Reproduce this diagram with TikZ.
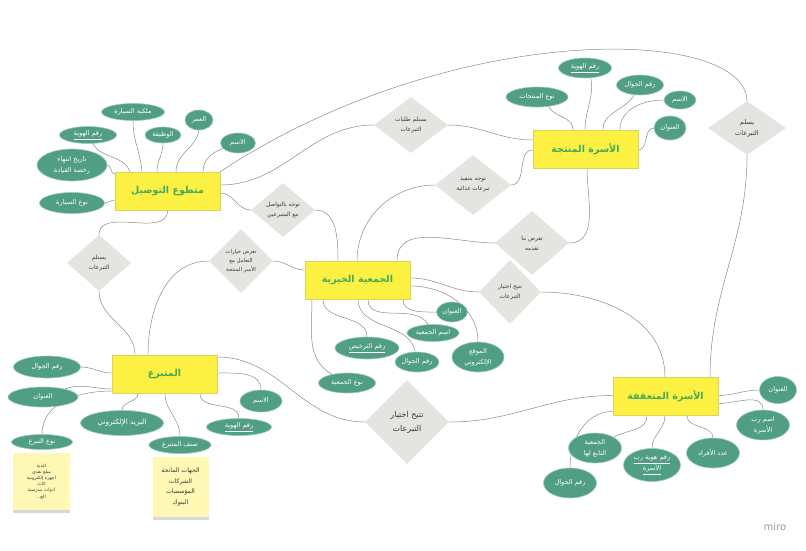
\documentclass[tikz,border=0pt]{standalone}
\usepackage{fontspec}
\setmainfont{DejaVu Sans}
\newfontfamily\arfont[Script=Arabic]{DejaVu Sans}
\TeXXeTstate=1
\usetikzlibrary{shapes.geometric,shadows,backgrounds}
\newcommand{\AR}[1]{\beginR#1\endR}
\definecolor{entfill}{HTML}{FCF142}
\definecolor{entline}{HTML}{DCD35C}
\definecolor{enttext}{HTML}{45A85C}
\definecolor{attfill}{HTML}{519E86}
\definecolor{attline}{HTML}{9CCBBA}
\definecolor{relfill}{HTML}{E4E4E1}
\definecolor{reltext}{HTML}{3A3A3A}
\definecolor{linkcol}{HTML}{8A8A8A}
\definecolor{notefill}{HTML}{FFF8B4}
\begin{document}
\begin{tikzpicture}[x=1pt,y=1pt,
 ent/.style={rectangle, fill=entfill, draw=entline, line width=0.6pt, minimum width=105pt, minimum height=38pt, inner sep=0pt, text=enttext, font=\arfont\bfseries\fontsize{9.5}{12}\selectfont},
 attr/.style={ellipse, fill=attfill, draw=attline, line width=0.6pt, inner sep=0pt, text=white, align=center, font=\arfont\fontsize{6.6}{11}\selectfont},
 rel/.style={diamond, fill=relfill, draw=none, inner sep=0pt, text=reltext, align=center, font=\arfont\fontsize{5.8}{10}\selectfont},
 link/.style={draw=linkcol, line width=0.5pt},
 note/.style={rectangle, fill=notefill, inner sep=0pt, text=reltext, align=center, drop shadow={shadow xshift=0pt, shadow yshift=-2.5pt, opacity=0.3, fill=black!50}},
]
\useasboundingbox (0,0) rectangle (806,-550);

% entities
\node[ent] (vol) at (167.5,-191) {\AR{متطوع التوصيل}};
\node[ent] (prod) at (585.5,-149) {\AR{الأسرة المنتجة}};
\node[ent] (char) at (357.5,-280) {\AR{الجمعية الخيرية}};
\node[ent] (don) at (164.5,-374) {\AR{المتبرع}};
\node[ent] (poor) at (665.5,-396.5) {\AR{الأسرة المتعففة}};

% attributes of vol
\node[attr, minimum width=35pt, minimum height=20pt] (av1) at (238,-143) {\AR{الاسم}};
\node[attr, minimum width=28pt, minimum height=20pt] (av2) at (199,-120) {\AR{العمر}};
\node[attr, minimum width=36pt, minimum height=16pt] (av3) at (163,-135) {\AR{الوظيفة}};
\node[attr, minimum width=63pt, minimum height=17pt] (av4) at (133,-112) {\AR{ملكية السيارة}};
\node[attr, minimum width=57pt, minimum height=17pt] (av5) at (88,-135) {\underline{\AR{رقم الهوية}}};
\node[attr, minimum width=70pt, minimum height=32pt] (av6) at (72,-165) {\AR{تاريخ انتهاء}\\\AR{رخصة القيادة}};
\node[attr, minimum width=65pt, minimum height=21pt] (av7) at (72,-203) {\AR{نوع السيارة}};

% attributes of prod
\node[attr, minimum width=53pt, minimum height=20pt] (ap1) at (585,-68) {\underline{\AR{رقم الهوية}}};
\node[attr, minimum width=47pt, minimum height=20pt] (ap2) at (640,-85) {\AR{رقم الجوال}};
\node[attr, minimum width=62pt, minimum height=20pt] (ap3) at (537,-97) {\AR{نوع المنتجات}};
\node[attr, minimum width=32pt, minimum height=18pt] (ap4) at (680,-100) {\AR{الاسم}};
\node[attr, minimum width=32pt, minimum height=24pt] (ap5) at (670,-128) {\AR{العنوان}};

% attributes of char
\node[attr, minimum width=31pt, minimum height=20pt] (ac1) at (452,-312) {\AR{العنوان}};
\node[attr, minimum width=52pt, minimum height=17pt] (ac2) at (433,-333) {\AR{اسم الجمعية}};
\node[attr, minimum width=64pt, minimum height=22pt] (ac3) at (367,-348) {\underline{\AR{رقم الترخيص}}};
\node[attr, minimum width=43pt, minimum height=20pt] (ac4) at (417,-362) {\AR{رقم الجوال}};
\node[attr, minimum width=52pt, minimum height=30pt] (ac5) at (478,-357) {\AR{الموقع}\\\AR{الإلكتروني}};
\node[attr, minimum width=57pt, minimum height=20pt] (ac6) at (347,-383) {\AR{نوع الجمعية}};

% attributes of don
\node[attr, minimum width=67pt, minimum height=22pt] (ad1) at (47,-367) {\AR{رقم الجوال}};
\node[attr, minimum width=70pt, minimum height=20pt] (ad2) at (43,-397) {\AR{العنوان}};
\node[attr, minimum width=83pt, minimum height=25pt, font=\arfont\fontsize{7.3}{9}\selectfont] (ad3) at (122,-423) {\AR{البريد الإلكتروني}};
\node[attr, minimum width=61pt, minimum height=15pt] (ad4) at (42,-442) {\AR{نوع التبرع}};
\node[attr, minimum width=62pt, minimum height=17pt] (ad5) at (180,-445) {\AR{صنف المتبرع}};
\node[attr, minimum width=42pt, minimum height=22pt] (ad6) at (261,-401) {\AR{الاسم}};
\node[attr, minimum width=65pt, minimum height=17pt] (ad7) at (239,-427) {\underline{\AR{رقم الهوية}}};

% attributes of poor
\node[attr, minimum width=37pt, minimum height=27pt] (af1) at (778,-390) {\AR{العنوان}};
\node[attr, minimum width=53pt, minimum height=30pt] (af2) at (763,-425) {\AR{اسم رب}\\\AR{الأسرة}};
\node[attr, minimum width=53pt, minimum height=30pt] (af3) at (713,-453) {\AR{عدد الأفراد}};
\node[attr, minimum width=57pt, minimum height=33pt] (af4) at (652,-465) {\underline{\AR{رقم هوية رب}}\\\underline{\AR{الأسرة}}};
\node[attr, minimum width=53pt, minimum height=30pt] (af5) at (595,-448) {\AR{الجمعية}\\\AR{التابع لها}};
\node[attr, minimum width=53pt, minimum height=30pt] (af6) at (570,-483) {\AR{رقم الجوال}};

% relationships
\node[rel, minimum width=74pt, minimum height=56pt] (d1) at (411,-125) {\AR{يستلم طلبات}\\\AR{التبرعات}};
\node[rel, minimum width=64pt, minimum height=54pt] (d2) at (283,-210) {\AR{توجه بالتواصل}\\\AR{مع المتبرعين}};
\node[rel, minimum width=76pt, minimum height=60pt] (d3) at (473,-185) {\AR{توجه بتنفيذ}\\\AR{تبرعات غذائية}};
\node[rel, minimum width=74pt, minimum height=64pt] (d4) at (532,-243) {\AR{تعرض ما}\\\AR{تقدمه}};
\node[rel, minimum width=62pt, minimum height=64pt] (d5) at (510,-292) {\AR{تتيح اختيار}\\\AR{التبرعات}};
\node[rel, minimum width=64pt, minimum height=64pt, font=\arfont\fontsize{5.4}{8.8}\selectfont] (d6) at (241,-261) {\AR{تعرض خيارات}\\\AR{التعامل مع}\\\AR{الأسر المنتجة}};
\node[rel, minimum width=64pt, minimum height=56pt] (d7) at (99,-263) {\AR{يستلم}\\\AR{التبرعات}};
\node[rel, minimum width=84pt, minimum height=84pt, font=\arfont\fontsize{8}{14}\selectfont] (d8) at (407,-422) {\AR{تتيح اختيار}\\\AR{التبرعات}};
\node[rel, minimum width=78pt, minimum height=54pt, font=\arfont\fontsize{6.6}{11}\selectfont] (d9) at (747,-128) {\AR{يسلم}\\\AR{التبرعات}};

% sticky notes
\node[note, minimum width=57pt, minimum height=57pt, font=\arfont\fontsize{4.6}{6.2}\selectfont] (s1) at (41.5,-481.5) {\AR{اغذية}\\\AR{مبلغ نقدي}\\\AR{اجهزة إلكترونية}\\\AR{اثاث}\\\AR{ادوات مدرسية}\\\AR{الخ..}};
\node[note, minimum width=56pt, minimum height=60pt, font=\arfont\fontsize{6.2}{10.5}\selectfont] (s2) at (180.5,-487) {\AR{الجهات المانحة}\\\AR{الشركات}\\\AR{المؤسسات}\\\AR{البنوك}};

\node[text=black!40, font=\fontsize{10}{12}\selectfont] (miro) at (775,-527) {miro};

\begin{scope}[on background layer]
\fill[white] (0,0) rectangle (806,-550);
% vol attribute links
\draw[link] ([xshift=35.5pt]vol.north) to[out=90,in=200] (av1.200);
\draw[link] ([xshift=8.5pt]vol.north) to[out=90,in=-100] (av2.south);
\draw[link] ([xshift=-10.5pt]vol.north) to[out=90,in=-90] (av3.south);
\draw[link] ([xshift=-25.5pt]vol.north) to[out=95,in=-90] (av4.south);
\draw[link] ([xshift=-37.5pt]vol.north) to[out=110,in=-60] (av5.-60);
\draw[link] ([yshift=17pt]vol.west) to[out=180,in=0] (av6.east);
\draw[link] ([yshift=-9pt]vol.west) to[out=180,in=0] (av7.east);
% prod attribute links
\draw[link] ([xshift=-12.5pt]prod.north) to[out=90,in=-60] (ap3.-40);
\draw[link] ([xshift=-0.5pt]prod.north) to[out=90,in=-80] (ap1.-60);
\draw[link] ([xshift=17.5pt]prod.north) to[out=90,in=-120] (ap2.-120);
\draw[link] ([xshift=34.5pt]prod.north) to[out=90,in=180] (ap4.west);
\draw[link] ([yshift=-1pt]prod.east) to[out=0,in=180] (ap5.west);
% char attribute links
\draw[link] ([xshift=45.5pt]char.south) to[out=-90,in=180] (ac1.west);
\draw[link] ([xshift=10.5pt]char.south) to[out=-90,in=120] (ac2.120);
\draw[link] ([xshift=-34.5pt]char.south) to[out=-90,in=90] (ac3.north);
\draw[link] ([xshift=0.5pt]char.south) to[out=-90,in=100] (ac4.100);
\draw[link] ([yshift=-6pt]char.east) to[out=0,in=90] (ac5.north);
\draw[link] ([xshift=-45.5pt]char.south) to[out=-90,in=150] (ac6.150);
% don attribute links
\draw[link] (ad1.east) to[out=0,in=180] ([yshift=1pt]don.west);
\draw[link] (ad2.20) to[out=20,in=180] ([yshift=-15pt]don.west);
\draw[link] (ad4.north) to[out=90,in=180] ([yshift=-17pt]don.west);
\draw[link] ([xshift=-26.5pt]don.south) to[out=-90,in=90] (ad3.north);
\draw[link] ([xshift=0.5pt]don.south) to[out=-90,in=90] (ad5.north);
\draw[link] ([xshift=35.5pt]don.south) to[out=-90,in=90] (ad7.north);
\draw[link] ([yshift=1pt]don.east) to[out=0,in=90] (ad6.north);
% poor attribute links
\draw[link] ([yshift=1pt]poor.east) to[out=0,in=180] (af1.west);
\draw[link] ([yshift=-7pt]poor.east) to[out=0,in=90] (af2.north);
\draw[link] ([xshift=21.5pt]poor.south) to[out=-90,in=90] (af3.north);
\draw[link] ([xshift=-0.5pt]poor.south) to[out=-90,in=90] (af4.north);
\draw[link] ([xshift=-18.5pt]poor.south) to[out=-90,in=30] (af5.30);
\draw[link] ([yshift=-15pt]poor.west) to[out=180,in=90] (af6.north);
% relationship links
\draw[link] (vol.south) to[out=-90,in=90] (d7.north);
\draw[link] (d7.south) to[out=-90,in=90] ([xshift=-29.5pt]don.north);
\draw[link] ([yshift=6pt]vol.east) to[out=0,in=180] (d1.west);
\draw[link] ([yshift=-2pt]vol.east) to[out=0,in=180] (d2.west);
\draw[link] (vol.north east) .. controls (450,-20) and (745,-25) .. (d9.north);
\draw[link] (d1.east) to[out=0,in=180] ([yshift=9pt]prod.west);
\draw[link] (d2.east) to[out=0,in=90] ([xshift=-19.5pt]char.north);
\draw[link] ([xshift=-0.5pt]char.north) to[out=90,in=180] (d3.west);
\draw[link] (d3.east) to[out=0,in=180] ([yshift=-1pt]prod.west);
\draw[link] ([xshift=39.5pt]char.north) to[out=90,in=180] (d4.west);
\draw[link] (d4.east) to[out=0,in=-90] ([xshift=1.5pt]prod.south);
\draw[link] ([yshift=2pt]char.east) to[out=0,in=180] (d5.west);
\draw[link] (d5.east) to[out=0,in=90] ([xshift=-0.5pt]poor.north);
\draw[link] (d6.east) to[out=0,in=180] ([yshift=10pt]char.west);
\draw[link] ([xshift=-16.5pt]don.north) to[out=90,in=180] (d6.west);
\draw[link] ([yshift=17pt]don.east) to[out=0,in=180] (d8.west);
\draw[link] (d8.east) to[out=0,in=180] ([yshift=1pt]poor.west);
\draw[link] (d9.south) to[out=-90,in=90] ([xshift=44.5pt]poor.north);
\end{scope}
\end{tikzpicture}
\end{document}
